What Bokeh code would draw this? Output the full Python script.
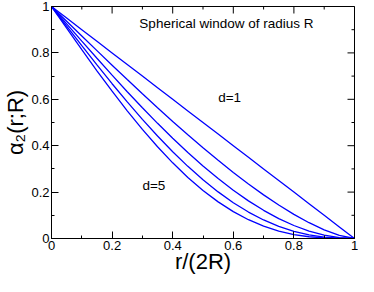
import math
from bokeh.plotting import figure
from bokeh.models import Range1d, FixedTicker
from bokeh.core.properties import value
from bokeh.embed import file_html
from bokeh.resources import INLINE

# r/(2R) sample positions
x = [0, 0.05, 0.1, 0.15, 0.2, 0.25, 0.3, 0.35, 0.4, 0.45, 0.5,
     0.55, 0.6, 0.65, 0.7, 0.75, 0.8, 0.85, 0.9, 0.95, 1]

# alpha_2(r;R) for d = 1..5
d1 = [1, 0.95, 0.9, 0.85, 0.8, 0.75, 0.7, 0.65, 0.6, 0.55, 0.5,
      0.45, 0.4, 0.35, 0.3, 0.25, 0.2, 0.15, 0.1, 0.05, 0]
d2 = [1, 0.9364, 0.8729, 0.8097, 0.7471, 0.6851, 0.6238, 0.5637, 0.5046, 0.4470, 0.3910,
      0.3368, 0.2848, 0.2351, 0.1881, 0.1443, 0.1041, 0.0681, 0.0374, 0.0133, 0]
d3 = [1, 0.9251, 0.8505, 0.7767, 0.7040, 0.6328, 0.5635, 0.4964, 0.4320, 0.3706, 0.3125,
      0.2582, 0.2080, 0.1623, 0.1215, 0.0859, 0.0560, 0.0321, 0.0145, 0.0037, 0]
d4 = [1, 0.9152, 0.8311, 0.7482, 0.6672, 0.5887, 0.5133, 0.4416, 0.3739, 0.3110, 0.2532,
      0.2009, 0.1544, 0.1140, 0.0799, 0.0522, 0.0308, 0.0154, 0.0058, 0.0011, 0]
d5 = [1, 0.9064, 0.8138, 0.7229, 0.6349, 0.5504, 0.4703, 0.3954, 0.3262, 0.2632, 0.2070,
      0.1579, 0.1158, 0.0810, 0.0532, 0.0321, 0.0171, 0.0075, 0.0023, 0.0003, 0]
series = [d1, d2, d3, d4, d5]

tick_vals = [0, 0.2, 0.4, 0.6, 0.8, 1]
tick_labels = ["0", "0.2", "0.4", "0.6", "0.8", "1"]
minor_vals = [0.1, 0.3, 0.5, 0.7, 0.9]

title_text = "Spherical window of radius R"
curve_labels = ["d=1", "d=5"]
x_label = "r/(2R)"
y_label = "α₂(r;R)"

FONT = "Liberation Sans"

p = figure(width=358, height=276, x_range=Range1d(0, 1), y_range=Range1d(0, 1),
           output_backend="svg", toolbar_location=None,
           min_border_left=46, min_border_right=4, min_border_top=6, min_border_bottom=36)
p.background_fill_color = "white"
p.border_fill_color = "white"
p.outline_line_color = "black"
p.outline_line_width = 1
p.xgrid.visible = False
p.ygrid.visible = False

for ys in series:
    p.line(x, ys, line_color="#0000ff", line_width=1.3)

for ax in (p.xaxis[0], p.yaxis[0]):
    ax.ticker = FixedTicker(ticks=tick_vals, minor_ticks=minor_vals)
    ax.major_label_overrides = dict(zip(tick_vals, tick_labels))
    ax.major_tick_in = 7
    ax.major_tick_out = 0
    ax.minor_tick_in = 3
    ax.minor_tick_out = 0
    ax.major_tick_line_color = "black"
    ax.minor_tick_line_color = "black"
    ax.axis_line_color = "black"
    ax.major_label_text_font = FONT
    ax.major_label_text_color = "black"
    ax.major_label_text_font_size = "13px"
    ax.major_label_standoff = 2
    ax.axis_label_text_font = FONT
    ax.axis_label_text_font_size = "22px"
    ax.axis_label_text_font_style = "normal"
    ax.axis_label_text_color = "black"

xa = p.xaxis[0]
ya = p.yaxis[0]
xa.axis_label = x_label
xa.axis_label_standoff = -4
ya.axis_label = y_label
ya.axis_label_standoff = 0

# mirrored ticks on top and right edges (half of each dash is clipped by the frame)
ones_major = [1] * len(tick_vals)
ones_minor = [1] * len(minor_vals)
p.scatter(tick_vals, ones_major, marker="dash", size=14, angle=math.pi / 2,
          line_color="black", line_width=1)
p.scatter(minor_vals, ones_minor, marker="dash", size=6, angle=math.pi / 2,
          line_color="black", line_width=1)
p.scatter(ones_major, tick_vals, marker="dash", size=14, line_color="black", line_width=1)
p.scatter(ones_minor, minor_vals, marker="dash", size=6, line_color="black", line_width=1)

p.text(x=[0.29], y=[0.925], text=[title_text], text_font=value(FONT),
       text_font_size="13.5px", text_baseline="middle", text_align="left", text_color="black")
p.text(x=[0.55, 0.30], y=[0.606, 0.23], text=curve_labels, text_font=value(FONT),
       text_font_size="13.5px", text_baseline="middle", text_align="left", text_color="black")

open("out.html", "w").write(file_html(p, INLINE))
